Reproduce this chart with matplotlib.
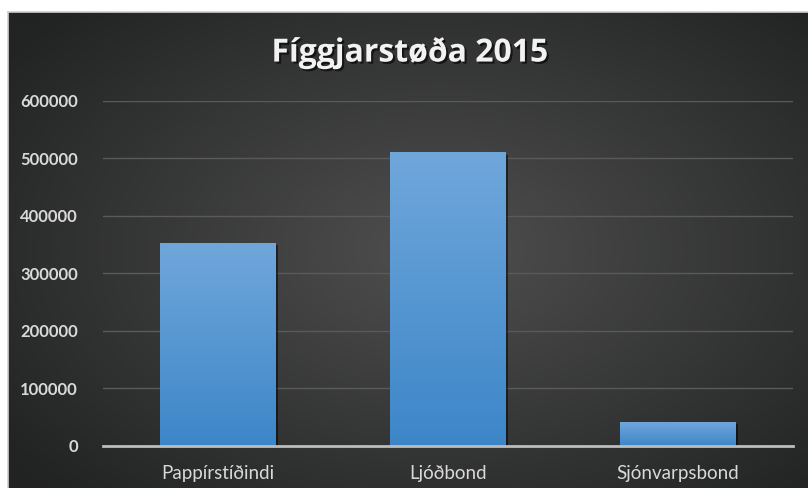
import numpy as np
import matplotlib
matplotlib.use("Agg")
import matplotlib.pyplot as plt
import matplotlib.patheffects as pe

categories = ["Pappírstíðindi", "Ljóðbond", "Sjónvarpsbond"]
values = [352000, 510000, 41000]
yticks = [0, 100000, 200000, 300000, 400000, 500000, 600000]
title = "Fíggjarstøða 2015"

W, H = 808, 488
fig = plt.figure(figsize=(W / 100, H / 100), dpi=100, facecolor="white")

# background panel with radial gradient
bg = fig.add_axes([8 / W, 0, 800 / W, 476 / H])
bg.set_axis_off()
nx, ny = 400, 240
xx, yy = np.meshgrid(np.linspace(-1, 1, nx), np.linspace(-1, 1, ny))
r = np.sqrt((xx - 0.08) ** 2 + (yy * 0.95) ** 2) / np.sqrt(2)
c_in = np.array([0x4f, 0x4f, 0x4f]) / 255
c_out = np.array([0x22, 0x23, 0x23]) / 255
t = np.clip(r / 0.95, 0, 1)[..., None]
img = c_in * (1 - t) + c_out * t
bg.imshow(img, extent=[0, 1, 0, 1], aspect="auto", interpolation="bicubic")
bg.set_xlim(0, 1)
bg.set_ylim(0, 1)
bg.plot([0, 1], [1, 1], color="#cfcfcf", lw=1.2, transform=bg.transAxes, clip_on=False)
bg.plot([0, 0], [0, 1], color="#cfcfcf", lw=1.2, transform=bg.transAxes, clip_on=False)

ax = fig.add_axes([103 / W, 42.3 / H, 690 / W, 345 / H])
ax.set_facecolor("none")
x = np.arange(len(categories))
bars = ax.bar(x, values, width=0.504, color="#5b9bd5", zorder=3, linewidth=0)

grad = np.linspace(0, 1, 256)[:, None]
top_c = np.array([112, 167, 219]) / 255
bot_c = np.array([60, 134, 200]) / 255
gimg = (top_c * (1 - grad[..., None]) + bot_c * grad[..., None])
gimg = np.repeat(gimg, 2, axis=1)
for b in bars:
    x0, y0 = b.get_x(), b.get_y()
    w, h = b.get_width(), b.get_height()
    b.set_path_effects([pe.SimplePatchShadow(offset=(1.5, -1.5), shadow_rgbFace="black", alpha=0.5), pe.Normal()])
    im = ax.imshow(gimg, extent=[x0, x0 + w, y0, y0 + h], aspect="auto", zorder=4,
                   interpolation="bilinear")
    im.set_clip_path(b)

ax.set_xlim(-0.5, len(categories) - 0.5)
ax.set_ylim(0, 600000)
ax.set_yticks(yticks)
ax.set_yticklabels([str(v) for v in yticks])
ax.set_xticks(x)
ax.set_xticklabels(categories)
ax.grid(axis="y", color="#5a5a5a", lw=1, zorder=0)
for s in ["top", "right", "left"]:
    ax.spines[s].set_visible(False)
ax.spines["bottom"].set_color("#bdbdbd")
ax.spines["bottom"].set_linewidth(2)
ax.spines["bottom"].set_zorder(5)
ax.tick_params(axis="both", length=0)
ax.tick_params(axis="y", pad=18, labelcolor="#d9d9d9", labelsize=12)
ax.tick_params(axis="x", pad=14, labelcolor="#d9d9d9", labelsize=13.5)
for lbl in ax.get_yticklabels():
    lbl.set_fontfamily("Lato")
    lbl.set_fontweight("bold")
for lbl in ax.get_xticklabels():
    lbl.set_fontfamily("Lato")

fig.text(410 / W, 1 - 53 / H, title, ha="center", va="center", fontsize=23,
         fontfamily="Open Sans", fontweight="bold", color="#f2f2f2",
         path_effects=[pe.withSimplePatchShadow(offset=(1.5, -1.5), shadow_rgbFace="black", alpha=0.6)])

fig.savefig("out.png", dpi=100, facecolor="white")
